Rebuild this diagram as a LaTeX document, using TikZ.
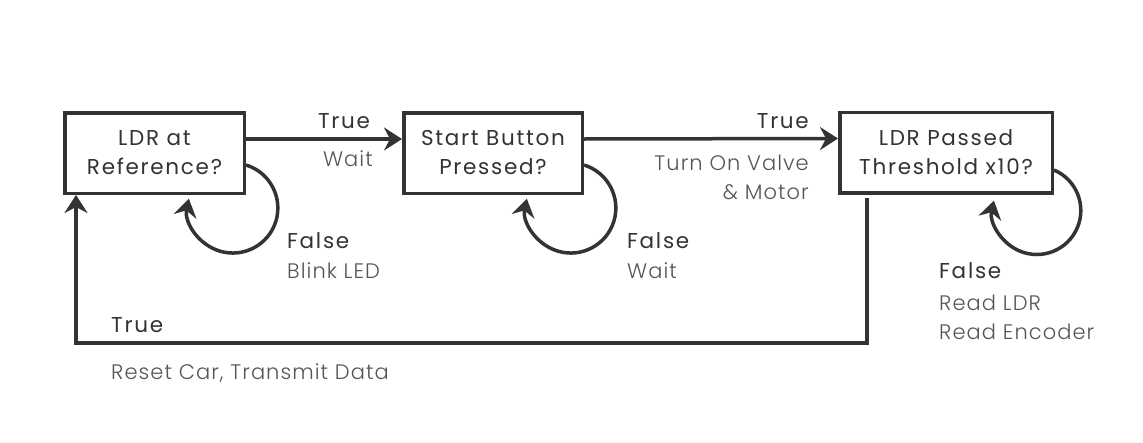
\documentclass[tikz,border=0pt]{standalone}
\usepackage{fontspec}
\setmainfont{Poppins}[LetterSpace=8]
\newfontfamily\lightfont{Poppins}[UprightFont=* Light, LetterSpace=5]
\usetikzlibrary{arrows.meta}
\definecolor{ink}{HTML}{333333}
\definecolor{soft}{HTML}{555555}
\tikzset{
  statebox/.style={draw=ink, line width=3.5pt, minimum width=#1, minimum height=80.5pt, inner sep=0pt,
     align=center, text=ink, font=\fontsize{21.5}{29}\selectfont},
  arr/.style={draw=ink, line width=3.5pt, -{Stealth[length=18pt,width=23pt,inset=6pt]}},
  cond/.style={text=ink, font=\fontsize{21.5}{29}\selectfont, inner sep=0pt},
  act/.style={text=soft, font=\lightfont\fontsize{21}{29}\selectfont, inner sep=0pt}
}
\begin{document}
\begin{tikzpicture}[x=1pt,y=1pt]
\useasboundingbox (0,0) rectangle (1143,-442);
\node[statebox=179.5pt] (b1) at (154.5,-153) {LDR at\\Reference?};
\node[statebox=178.5pt] (b2) at (493,-153) {Start Button\\Pressed?};
\node[statebox=212.5pt] (b3) at (946,-152.5) {LDR Passed\\Threshold x10?};

% True transitions
\draw[arr] ([yshift=14pt]b1.east) -- ([yshift=14pt]b2.west);
\draw[arr] ([yshift=14pt]b2.east) -- ([yshift=14pt]b3.west);

% self loops
\draw[arr] ([yshift=-12pt]b1.east) arc[start angle=73, end angle=-192, radius=45];
\draw[arr] ([yshift=-12pt]b2.east) arc[start angle=73, end angle=-192, radius=45];
\draw[arr] ([yshift=-17.5pt]b3.east) arc[start angle=67, end angle=-193, radius=44];

% return path
\coordinate (rr) at (867,-343);
\coordinate (ll) at (76,-343);
\draw[arr] ([yshift=-3pt]b3.south -| rr) -- (rr) -- (ll) -- (ll |- b1.south);

% labels
\node[cond, anchor=base] (t1) at (344,-128) {True};
\node[act, anchor=base east] (a1) at (373,-166) {Wait};
\node[cond, anchor=base east] (t2) at (809,-128) {True};
\node[act, anchor=base east] (a2) at (809,-170) {Turn On Valve};
\node[act, anchor=base east] (a2b) at (809,-199) {\&~Motor};

\node[cond, anchor=base west] (f1) at (287,-248) {False};
\node[act, anchor=base west] (g1) at (287,-278) {Blink LED};
\node[cond, anchor=base west] (f2) at (627,-248) {False};
\node[act, anchor=base west] (g2) at (627,-278) {Wait};
\node[cond, anchor=base west] (f3) at (939,-278) {False};
\node[act, anchor=base west] (g3) at (939,-310) {Read LDR};
\node[act, anchor=base west] (g3b) at (939,-339) {Read Encoder};

\node[cond, anchor=base west] (t3) at (111,-332) {True};
\node[act, anchor=base west] (a3) at (111,-379) {Reset Car, Transmit Data};
\end{tikzpicture}
\end{document}
